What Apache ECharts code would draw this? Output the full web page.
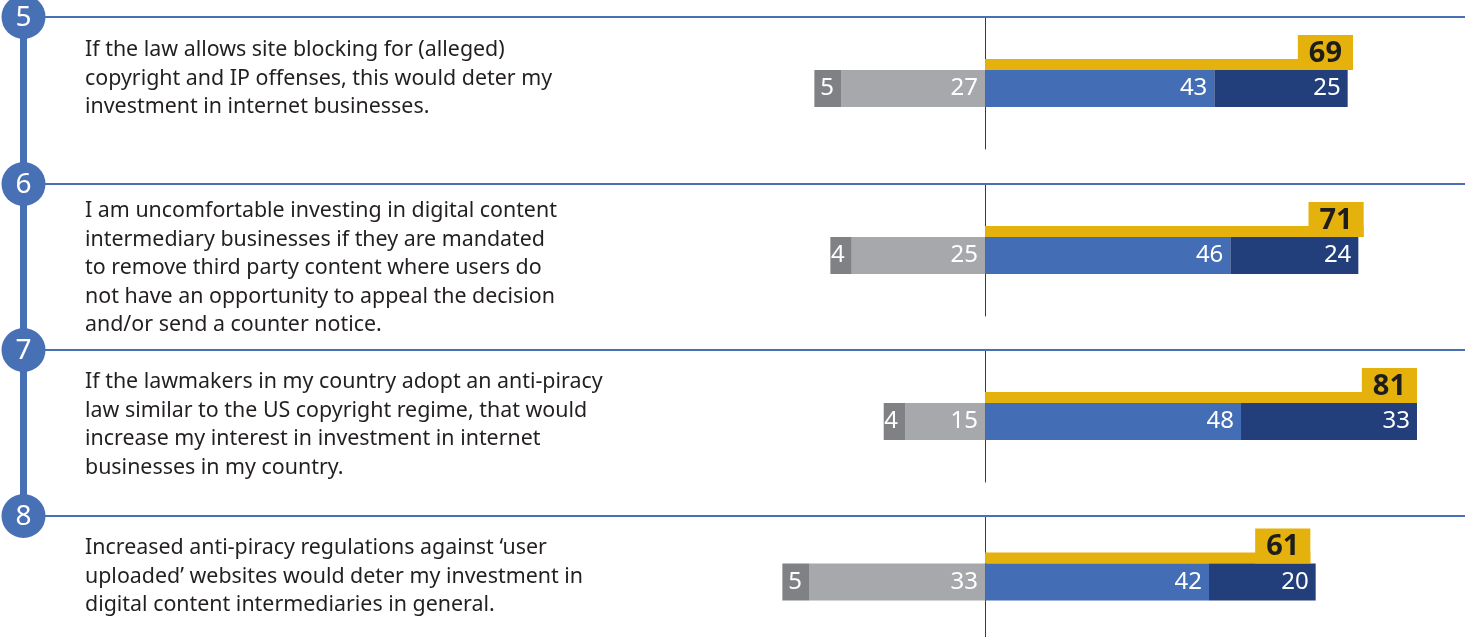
<!DOCTYPE html>
<html>
<head>
<meta charset="utf-8">
<title>Investor attitudes</title>
<script src="https://cdn.jsdelivr.net/npm/echarts@6/dist/echarts.min.js"></script>
<style>
html, body { margin: 0; padding: 0; background: #fff; }
#chart { width: 1465px; height: 637px; }
</style>
</head>
<body>
<div id="chart"></div>
<script>
// survey statements 5-8, percent of respondents
var itemNumbers = ['5', '6', '7', '8'];
var questions = [
  'If the law allows site blocking for (alleged)\ncopyright and IP offenses, this would deter my\ninvestment in internet businesses.',
  'I am uncomfortable investing in digital content\nintermediary businesses if they are mandated\nto remove third party content where users do\nnot have an opportunity to appeal the decision\nand/or send a counter notice.',
  'If the lawmakers in my country adopt an anti-piracy\nlaw similar to the US copyright regime, that would\nincrease my interest in investment in internet\nbusinesses in my country.',
  'Increased anti-piracy regulations against \u2018user\nuploaded\u2019 websites would deter my investment in\ndigital content intermediaries in general.'
];
var stronglyDisagree = [5, 4, 4, 5];
var disagree = [27, 25, 15, 33];
var agree = [43, 46, 48, 42];
var stronglyAgree = [25, 24, 33, 20];
var totalAgree = [69, 71, 81, 61];

var FONT = '"Noto Sans", "Open Sans", sans-serif';
var BLUE_LINE = '#4870b5';
var sectionTop = [17, 184, 350, 516];
var textCenter = [50, 211, 382, 548];

window.onload = function() {
  var chart = echarts.init(document.getElementById('chart'), null, {renderer: 'canvas'});
  chart.setOption(buildOption());
};

function
stackBar(i, name, values, color, textColor) {
  return {
    type: 'bar',
    name: name,
    xAxisIndex: i,
    yAxisIndex: i,
    stack: 'resp' + i,
    barWidth: 37,
    barGap: '0%',
    silent: true,
    data: values,
    itemStyle: {color: color},
    label: {
      show: true,
      position: 'insideRight',
      distance: 7,
      color: textColor,
      textBorderWidth: 0,
      fontFamily: FONT,
      fontSize: 24,
      formatter: function(p) { return Math.abs(p.value); }
    }
  };
}

function
buildOption() {
  var grids = [], xAxes = [], yAxes = [], series = [], graphics = [];

  for (var i = 0; i < questions.length; i++) {
    var top = sectionTop[i];
    grids.push({left: 771.7, right: 0, top: top, height: 132});
    xAxes.push({
      type: 'value', gridIndex: i, min: -40, max: 90,
      axisLine: {show: false}, axisTick: {show: false},
      axisLabel: {show: false}, splitLine: {show: false}
    });
    yAxes.push({
      type: 'category', gridIndex: i, data: [itemNumbers[i]],
      axisLine: {show: true, onZero: true, lineStyle: {color: '#3a3a3a', width: 1}},
      axisTick: {show: false}, axisLabel: {show: false}
    });

    // thin yellow "total agree" bar with the boxed total on its end
    series.push({
      type: 'bar',
      name: 'Total agree',
      xAxisIndex: i,
      yAxisIndex: i,
      barWidth: 11,
      barGap: '0%',
      silent: true,
      data: [totalAgree[i]],
      itemStyle: {color: '#e5b20d'},
      label: {
        show: true,
        position: 'insideBottomRight',
        distance: 0,
        color: '#1d1d1b',
        textBorderWidth: 0,
        fontFamily: FONT,
        fontSize: 29,
        fontWeight: 'bold',
        lineHeight: 33,
        padding: [2, 11, 0, 11],
        backgroundColor: '#e5b20d'
      }
    });
    series.push(stackBar(i, 'Disagree', [-disagree[i]], '#a7a8ab', '#ffffff'));
    series.push(stackBar(i, 'Strongly disagree', [-stronglyDisagree[i]], '#808184', '#ffffff'));
    series.push(stackBar(i, 'Agree', [agree[i]], '#436db4', '#ffffff'));
    series.push(stackBar(i, 'Strongly agree', [stronglyAgree[i]], '#223f7b', '#ffffff'));

    graphics.push({
      type: 'line', z: 5,
      shape: {x1: 30, y1: top, x2: 1465, y2: top},
      style: {stroke: BLUE_LINE, lineWidth: 2}
    });
    graphics.push({
      type: 'text', left: 85, top: textCenter[i] - 14.25, z: 5,
      style: {
        text: questions[i], fill: '#231f20', font: '21.4px ' + FONT,
        lineHeight: 28.5
      }
    });
  }

  // the numbered spine on the left
  graphics.push({
    type: 'rect', z: 6,
    shape: {x: 20, y: sectionTop[0], width: 7, height: sectionTop[3] - sectionTop[0]},
    style: {fill: BLUE_LINE}
  });
  for (var k = 0; k < itemNumbers.length; k++) {
    graphics.push({
      type: 'circle', z: 7,
      shape: {cx: 23.5, cy: sectionTop[k], r: 22},
      style: {fill: BLUE_LINE}
    });
    graphics.push({
      type: 'text', z: 8, x: 23.5, y: sectionTop[k] + 1,
      style: {
        text: itemNumbers[k], fill: '#ffffff', font: '28px ' + FONT,
        align: 'center', verticalAlign: 'middle'
      }
    });
  }

  return {
    animation: false,
    backgroundColor: '#ffffff',
    grid: grids,
    xAxis: xAxes,
    yAxis: yAxes,
    series: series,
    graphic: graphics
  };
}
</script>
</body>
</html>
